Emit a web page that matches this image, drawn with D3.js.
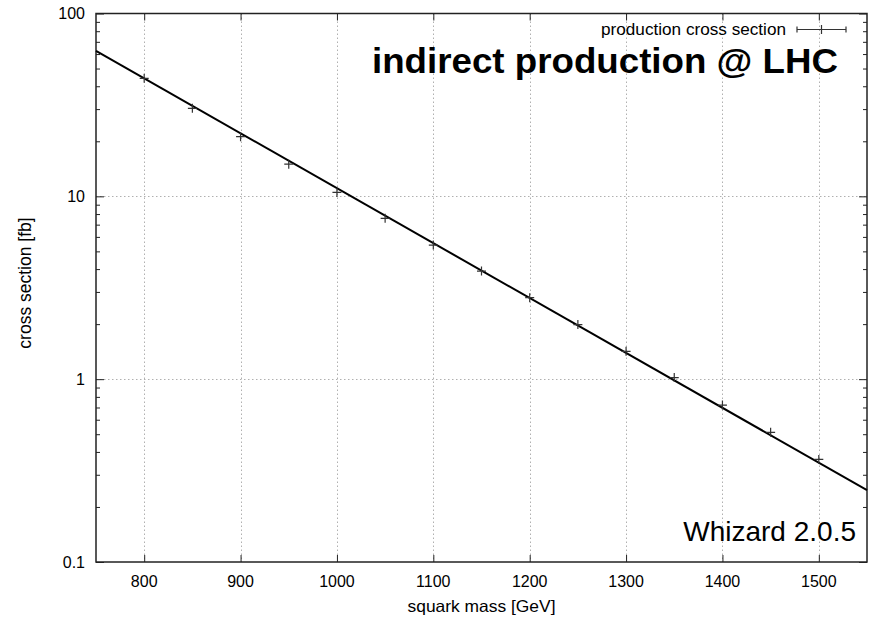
<!DOCTYPE html>
<html>
<head>
<meta charset="utf-8">
<script src="https://cdn.jsdelivr.net/npm/d3@7"></script>
<style>
  body { margin: 0; background: #fff; }
  text { font-family: "Liberation Sans", Arial, Helvetica, sans-serif; fill: #000; }
</style>
</head>
<body>
<div id="chart"></div>
<script>
// squark mass [GeV] vs cross section [fb]
var masses = [800, 850, 900, 950, 1000, 1050, 1100, 1150, 1200, 1250, 1300, 1350, 1400, 1450, 1500];
var crossSections = [44.2, 30.3, 21.2, 15.0, 10.5, 7.58, 5.41, 3.90, 2.79, 1.99, 1.42, 1.02, 0.722, 0.512, 0.364];

// fitted exponential, its two ends
var fitMasses = [750, 1550];
var fitValues = [62.4, 0.247];

var xTicks = [800, 900, 1000, 1100, 1200, 1300, 1400, 1500];
var yTicks = [0.1, 1, 10, 100];
var yTickLabels = ["0.1", "1", "10", "100"];

var xDomain = [750, 1550];
var yDomain = [0.1, 100];

var legendLabel = "production cross section";
var titleText = "indirect production @ LHC";
var versionText = "Whizard 2.0.5";

(function renderChart() {

    var width = 870, height = 617,
        left = 96, right = 867, top = 13.5, bottom = 562;

    var svg = d3.select("#chart").append("svg")
        .attr("width", width)
        .attr("height", height);

    var x = d3.scaleLinear().domain(xDomain).range([left, right]),
        y = d3.scaleLog().domain(yDomain).range([bottom, top]);

    // minor log ticks 2..9 in every decade
    var minorTicks = [];
    for (var dec = 0.1; dec < 100; dec *= 10) {
        for (var m = 2; m <= 9; m++) minorTicks.push(+(dec * m).toPrecision(3));
    }

    var grid = svg.append("g").attr("class", "grid");

    grid.selectAll(".vgrid")
        .data(xTicks)
        .enter().append("line")
            .attr("x1", function(d) { return Math.round(x(d)) + 0.5; })
            .attr("x2", function(d) { return Math.round(x(d)) + 0.5; })
            .attr("y1", top)
            .attr("y2", bottom)
            .style("stroke", "#b0b0b0")
            .style("stroke-width", 1)
            .style("stroke-dasharray", "1.5,2.5");

    grid.selectAll(".hgrid")
        .data(yTicks.slice(1, -1))
        .enter().append("line")
            .attr("x1", left)
            .attr("x2", right)
            .attr("y1", function(d) { return Math.round(y(d)) + 0.5; })
            .attr("y2", function(d) { return Math.round(y(d)) + 0.5; })
            .style("stroke", "#b0b0b0")
            .style("stroke-width", 1)
            .style("stroke-dasharray", "1.5,2.5");

    // axes, ticks pointing inward on all four sides
    var tickColor = "#222";

    svg.append("g")
        .attr("transform", "translate(0," + bottom + ")")
        .call(d3.axisTop(x).tickValues(xTicks).tickSize(7).tickFormat(""))
        .call(function(g) { g.select(".domain").remove(); g.selectAll("line").style("stroke", tickColor); });

    svg.append("g")
        .attr("transform", "translate(0," + top + ")")
        .call(d3.axisBottom(x).tickValues(xTicks).tickSize(7).tickFormat(""))
        .call(function(g) { g.select(".domain").remove(); g.selectAll("line").style("stroke", tickColor); });

    [[left, d3.axisRight], [right, d3.axisLeft]].forEach(function(side) {
        svg.append("g")
            .attr("transform", "translate(" + side[0] + ",0)")
            .call(side[1](y).tickValues(yTicks).tickSize(8).tickFormat(""))
            .call(function(g) { g.select(".domain").remove(); g.selectAll("line").style("stroke", tickColor); });
        svg.append("g")
            .attr("transform", "translate(" + side[0] + ",0)")
            .call(side[1](y).tickValues(minorTicks).tickSize(4).tickFormat(""))
            .call(function(g) { g.select(".domain").remove(); g.selectAll("line").style("stroke", tickColor); });
    });

    svg.append("rect")
        .attr("x", left)
        .attr("y", top)
        .attr("width", right - left)
        .attr("height", bottom - top)
        .style("fill", "none")
        .style("stroke", "#222")
        .style("stroke-width", 1.5);

    // tick labels
    svg.selectAll(".xLabel")
        .data(xTicks)
        .enter().append("text")
            .attr("class", "xLabel")
            .attr("x", function(d) { return x(d); })
            .attr("y", 587)
            .style("text-anchor", "middle")
            .style("font-size", "16px")
            .text(function(d) { return d; });

    svg.selectAll(".yLabel")
        .data(yTicks)
        .enter().append("text")
            .attr("class", "yLabel")
            .attr("x", 85)
            .attr("y", function(d) { return y(d) + 5.5; })
            .style("text-anchor", "end")
            .style("font-size", "16px")
            .text(function(d, i) { return yTickLabels[i]; });

    svg.append("text")
        .attr("x", (left + right) / 2)
        .attr("y", 612)
        .style("text-anchor", "middle")
        .style("font-size", "16.5px")
        .attr("textLength", 148)
        .attr("lengthAdjust", "spacingAndGlyphs")
        .text("squark mass [GeV]");

    svg.append("text")
        .attr("transform", "translate(31,283) rotate(-90)")
        .style("text-anchor", "middle")
        .style("font-size", "17.5px")
        .text("cross section [fb]");

    // fit line
    var line = d3.line()
        .x(function(d) { return x(d[0]); })
        .y(function(d) { return y(d[1]); });

    svg.append("path")
        .datum(d3.zip(fitMasses, fitValues))
        .attr("d", line)
        .style("fill", "none")
        .style("stroke", "#000")
        .style("stroke-width", 2);

    // data points drawn as + marks
    svg.selectAll(".point")
        .data(d3.zip(masses, crossSections))
        .enter().append("path")
            .attr("class", "point")
            .attr("d", function(d) {
                var px = x(d[0]), py = y(d[1]);
                return "M" + (px - 4.5) + "," + py + "H" + (px + 4.5) +
                       "M" + px + "," + (py - 4.5) + "V" + (py + 4.5);
            })
            .style("fill", "none")
            .style("stroke", "#333")
            .style("stroke-width", 1.2);

    // legend
    var legendY = 29.5;
    svg.append("text")
        .attr("x", 786)
        .attr("y", 35)
        .style("text-anchor", "end")
        .style("font-size", "16.5px")
        .attr("textLength", 185)
        .attr("lengthAdjust", "spacingAndGlyphs")
        .text(legendLabel);

    svg.append("path")
        .attr("d", "M797," + legendY + "H846" +
                   "M797," + (legendY - 3) + "V" + (legendY + 3) +
                   "M846," + (legendY - 3) + "V" + (legendY + 3) +
                   "M821.5," + (legendY - 4.5) + "V" + (legendY + 4.5))
        .style("fill", "none")
        .style("stroke", "#333")
        .style("stroke-width", 1.2);

    svg.append("text")
        .attr("x", 838)
        .attr("y", 72.5)
        .style("text-anchor", "end")
        .style("font-size", "35px")
        .style("font-weight", "bold")
        .attr("textLength", 466)
        .attr("lengthAdjust", "spacingAndGlyphs")
        .text(titleText);

    svg.append("text")
        .attr("x", 856)
        .attr("y", 541)
        .style("text-anchor", "end")
        .style("font-size", "28px")
        .text(versionText);
})();
</script>
</body>
</html>
